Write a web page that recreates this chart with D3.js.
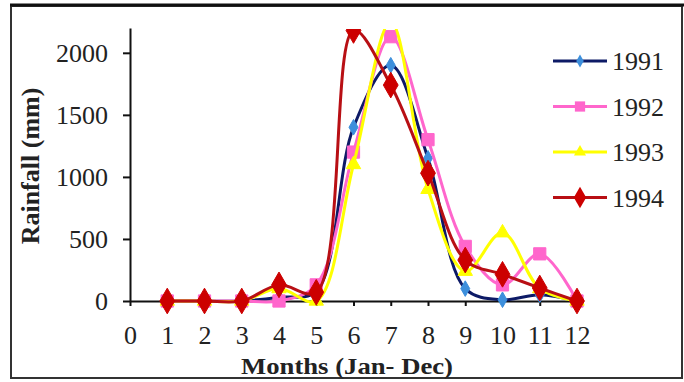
<!DOCTYPE html>
<html>
<head>
<meta charset="utf-8">
<script src="https://cdn.jsdelivr.net/npm/d3@7"></script>
<style>
  body { margin: 0; background: #fff; }
  text { font-family: "Liberation Serif", "Times New Roman", serif; }
</style>
</head>
<body>
<svg id="chart" width="684" height="382"></svg>
<script>
// rainfall per month
var months = [1,2,3,4,5,6,7,8,9,10,11,12];
var r1991 = [0, 0, 0, 30, 80, 1400, 1900, 1150, 100, 10, 50, 0];
var r1992 = [0, 0, 0, 0, 130, 1200, 2130, 1300, 440, 130, 380, 0];
var r1993 = [0, 0, 0, 100, 0, 1100, 2250, 900, 240, 550, 100, 0];
var r1994 = [0, 0, 0, 130, 70, 2180, 1740, 1030, 330, 215, 105, 0];
var years = ["1991", "1992", "1993", "1994"];
var yTicks = [0, 500, 1000, 1500, 2000];

var series = [
  {name: years[0], values: r1991, line: "#0d1a66", fill: "#3d8fdc", shape: d3.symbolDiamond, size: 70},
  {name: years[1], values: r1992, line: "#ff66cc", fill: "#ff66cc", shape: d3.symbolSquare, size: 150},
  {name: years[2], values: r1993, line: "#ffff00", fill: "#ffff00", shape: d3.symbolTriangle, size: 90},
  {name: years[3], values: r1994, line: "#b80f14", fill: "#cc0000", shape: d3.symbolDiamond, size: 190}
];

var svg = d3.select("#chart");

// outer frame
svg.append("rect").attr("x", 11).attr("y", 6).attr("width", 671).attr("height", 372)
  .attr("fill", "none").attr("stroke", "#333").attr("stroke-width", 2);
svg.append("line").attr("x1", 10).attr("x2", 684).attr("y1", 5).attr("y2", 5)
  .attr("stroke", "#111").attr("stroke-width", 3);

var x = d3.scaleLinear().domain([0, 12]).range([130, 577]);
var y = d3.scaleLinear().domain([0, 2200]).range([301, 28]);

svg.append("clipPath").attr("id", "clip")
  .append("rect").attr("x", 120).attr("y", 29).attr("width", 480).attr("height", 290);

var yAxis = svg.append("g").attr("transform", "translate(130,0)")
  .call(d3.axisLeft(y).tickValues(yTicks).tickFormat(d3.format("d"))
    .tickSize(7).tickSizeOuter(0).tickPadding(15));
var xAxis = svg.append("g").attr("transform", "translate(0,301)")
  .call(d3.axisBottom(x).ticks(12).tickSize(5).tickSizeOuter(0).tickPadding(20));

[yAxis, xAxis].forEach(function(g){
  g.attr("font-family", null);
  g.selectAll("path, line").attr("stroke", "#111").attr("stroke-width", 2);
  g.selectAll("text").attr("font-size", 26).attr("fill", "#222");
});

var line = d3.line()
  .x(function(d, i){ return x(months[i]); })
  .y(function(d){ return y(d); })
  .curve(d3.curveCatmullRom.alpha(0.5));

var plot = svg.append("g").attr("clip-path", "url(#clip)");

series.forEach(function(s){
  var g = plot.append("g");
  g.append("path").attr("d", line(s.values))
    .attr("fill", "none").attr("stroke", s.line).attr("stroke-width", 3);
  g.selectAll("path.m").data(s.values).enter().append("path")
    .attr("class", "m")
    .attr("d", d3.symbol().type(s.shape).size(s.size))
    .attr("transform", function(d, i){ return "translate(" + x(months[i]) + "," + y(d) + ")"; })
    .attr("fill", s.fill).attr("stroke", s.fill).attr("stroke-width", 1);
});

// legend
var legend = svg.append("g");
series.forEach(function(s, i){
  var ly = 61 + i * 45.5;
  legend.append("line").attr("x1", 553).attr("x2", 607).attr("y1", ly).attr("y2", ly)
    .attr("stroke", s.line).attr("stroke-width", 3);
  legend.append("path").attr("d", d3.symbol().type(s.shape).size(s.size * 0.7))
    .attr("transform", "translate(580," + ly + ")")
    .attr("fill", s.fill);
  legend.append("text").attr("x", 612).attr("y", ly + 9)
    .attr("font-size", 26).attr("fill", "#222").text(s.name);
});

// axis titles
svg.append("text").attr("transform", "translate(39,166) rotate(-90)")
  .attr("text-anchor", "middle").attr("font-size", 26).attr("font-weight", "bold")
  .attr("fill", "#222").text("Rainfall (mm)");
svg.append("text").attr("x", 347).attr("y", 374)
  .attr("text-anchor", "middle").attr("font-size", 23).attr("font-weight", "bold")
  .attr("textLength", 212).attr("lengthAdjust", "spacingAndGlyphs")
  .attr("fill", "#222").text("Months (Jan- Dec)");
</script>
</body>
</html>
